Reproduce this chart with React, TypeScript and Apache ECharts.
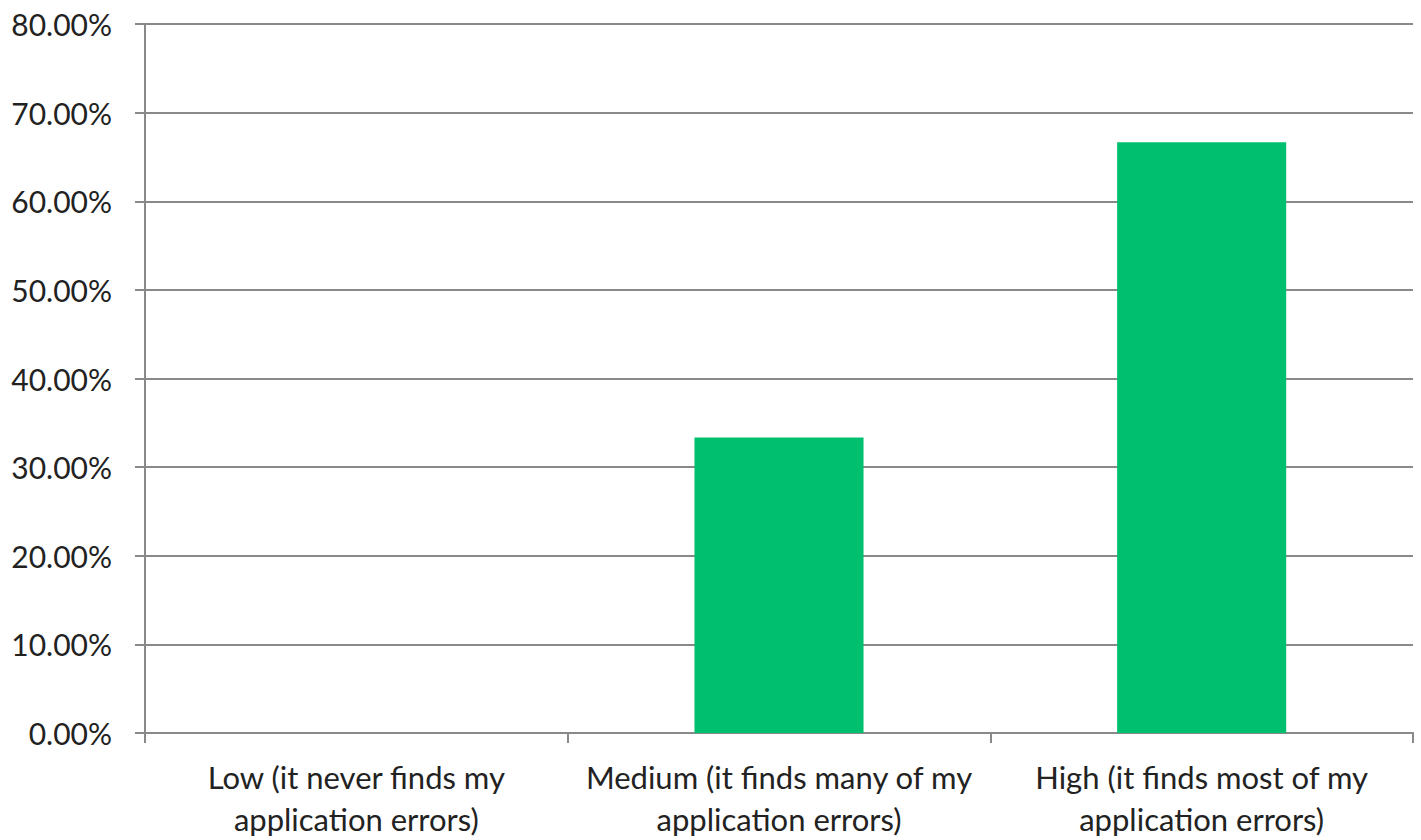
import React, { useEffect, useRef } from "react";
import * as echarts from "echarts";

// Perceived accuracy ratings and share of respondents (%)
const categories: string[] = [
  "Low (it never finds my\napplication errors)",
  "Medium (it finds many of my\napplication errors)",
  "High (it finds most of my\napplication errors)",
];
const shares: number[] = [0, 33.33, 66.67];
const yTicks = { min: 0, max: 80, step: 10 };

const BAR_COLOR = "#00BF6F";
const AXIS_COLOR = "#898989";
const TEXT_COLOR = "#222222";
const FONT = "Lato, 'Noto Sans', sans-serif";

export default function App() {
  const ref = useRef<HTMLDivElement>(null);

  useEffect(() => {
    if (!ref.current) return;
    const chart = echarts.init(ref.current, undefined, { renderer: "svg" });
    chart.setOption({
      animation: false,
      backgroundColor: "#ffffff",
      grid: { left: 145, right: 8, top: 24, bottom: 105, containLabel: false },
      xAxis: {
        type: "category",
        data: categories,
        axisLine: { show: true, lineStyle: { color: AXIS_COLOR, width: 2 } },
        axisTick: { show: true, length: 10, lineStyle: { color: AXIS_COLOR, width: 2 } },
        axisLabel: {
          color: TEXT_COLOR,
          fontFamily: FONT,
          fontSize: 31,
          lineHeight: 42,
          margin: 23,
          interval: 0,
        },
      },
      yAxis: {
        type: "value",
        min: yTicks.min,
        max: yTicks.max,
        interval: yTicks.step,
        axisLine: { show: true, lineStyle: { color: AXIS_COLOR, width: 2 } },
        axisTick: { show: true, length: 10, lineStyle: { color: AXIS_COLOR, width: 2 } },
        splitLine: { show: true, lineStyle: { color: AXIS_COLOR, width: 2 } },
        axisLabel: {
          color: TEXT_COLOR,
          fontFamily: FONT,
          fontSize: 30,
          margin: 33,
          formatter: (v: number) => `${v.toFixed(2)}%`,
        },
      },
      series: [
        {
          type: "bar",
          data: shares,
          barCategoryGap: "60%",
          itemStyle: { color: BAR_COLOR },
        },
      ],
    });
    return () => chart.dispose();
  }, []);

  return (
    <div
      ref={ref}
      style={{ position: "absolute", left: 0, top: 0, width: 1421, height: 840 }}
    />
  );
}
